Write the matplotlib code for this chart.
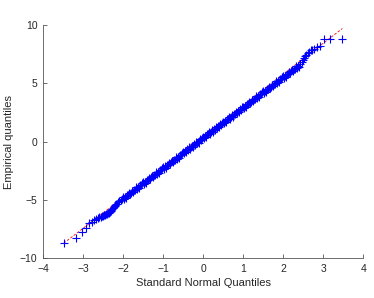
import matplotlib
matplotlib.use('Agg')
import matplotlib.pyplot as plt

# Lower tail: individual points
low_x = [-3.48, -3.17, -3.02, -2.92, -2.84, -2.78, -2.72, -2.67, -2.63, -2.59,
         -2.56, -2.53, -2.50, -2.47, -2.445, -2.42, -2.40, -2.375, -2.355, -2.335,
         -2.31, -2.29, -2.27, -2.25, -2.23, -2.21, -2.19, -2.17, -2.15, -2.12,
         -2.09, -2.06, -2.03]
low_y = [-8.74, -8.31, -7.74, -7.45, -7.02, -6.88, -6.72, -6.62, -6.55, -6.50,
         -6.46, -6.42, -6.38, -6.33, -6.30, -6.26, -6.22, -6.16, -6.10, -6.02,
         -5.93, -5.85, -5.76, -5.68, -5.60, -5.52, -5.45, -5.39, -5.32, -5.22,
         -5.13, -5.05, -4.97]

# Dense middle band
mid_x = [-2.000, -1.975, -1.950, -1.925, -1.900, -1.875, -1.850, -1.825, -1.800, -1.775,
         -1.750, -1.725, -1.700, -1.675, -1.650, -1.625, -1.600, -1.575, -1.550, -1.525,
         -1.500, -1.475, -1.450, -1.425, -1.400, -1.375, -1.350, -1.325, -1.300, -1.275,
         -1.250, -1.225, -1.200, -1.175, -1.150, -1.125, -1.100, -1.075, -1.050, -1.025,
         -1.000, -0.975, -0.950, -0.925, -0.900, -0.875, -0.850, -0.825, -0.800, -0.775,
         -0.750, -0.725, -0.700, -0.675, -0.650, -0.625, -0.600, -0.575, -0.550, -0.525,
         -0.500, -0.475, -0.450, -0.425, -0.400, -0.375, -0.350, -0.325, -0.300, -0.275,
         -0.250, -0.225, -0.200, -0.175, -0.150, -0.125, -0.100, -0.075, -0.050, -0.025,
         0.000, 0.025, 0.050, 0.075, 0.100, 0.125, 0.150, 0.175, 0.200, 0.225,
         0.250, 0.275, 0.300, 0.325, 0.350, 0.375, 0.400, 0.425, 0.450, 0.475,
         0.500, 0.525, 0.550, 0.575, 0.600, 0.625, 0.650, 0.675, 0.700, 0.725,
         0.750, 0.775, 0.800, 0.825, 0.850, 0.875, 0.900, 0.925, 0.950, 0.975,
         1.000, 1.025, 1.050, 1.075, 1.100, 1.125, 1.150, 1.175, 1.200, 1.225,
         1.250, 1.275, 1.300, 1.325, 1.350, 1.375, 1.400, 1.425, 1.450, 1.475,
         1.500, 1.525, 1.550, 1.575, 1.600, 1.625, 1.650, 1.675, 1.700, 1.725,
         1.750, 1.775, 1.800, 1.825, 1.850, 1.875, 1.900, 1.925, 1.950, 1.975,
         2.000, 2.025, 2.050, 2.075, 2.100, 2.125, 2.150, 2.175, 2.200, 2.225,
         2.250, 2.275, 2.300, 2.325, 2.350, 2.375, 2.400]
mid_y = [-4.80, -4.92, -4.74, -4.83, -4.57, -4.60, -4.40, -4.54, -4.38, -4.26,
         -4.36, -4.15, -4.17, -3.94, -4.06, -3.91, -3.99, -3.72, -3.76, -3.58,
         -3.50, -3.62, -3.44, -3.53, -3.27, -3.30, -3.10, -3.24, -3.08, -2.96,
         -3.06, -2.85, -2.87, -2.64, -2.76, -2.61, -2.69, -2.42, -2.46, -2.28,
         -2.20, -2.32, -2.14, -2.23, -1.97, -2.00, -1.80, -1.94, -1.78, -1.66,
         -1.76, -1.55, -1.57, -1.34, -1.46, -1.31, -1.39, -1.12, -1.16, -0.98,
         -0.90, -1.02, -0.84, -0.93, -0.67, -0.70, -0.50, -0.64, -0.48, -0.36,
         -0.46, -0.25, -0.27, -0.04, -0.16, -0.01, -0.09, 0.19, 0.14, 0.33,
         0.40, 0.29, 0.46, 0.38, 0.63, 0.61, 0.80, 0.67, 0.82, 0.95,
         0.84, 1.06, 1.03, 1.27, 1.14, 1.30, 1.21, 1.49, 1.44, 1.63,
         1.70, 1.59, 1.76, 1.68, 1.93, 1.91, 2.10, 1.97, 2.12, 2.25,
         2.14, 2.36, 2.33, 2.57, 2.44, 2.60, 2.51, 2.79, 2.74, 2.93,
         3.00, 2.89, 3.06, 2.98, 3.23, 3.21, 3.40, 3.27, 3.42, 3.55,
         3.44, 3.66, 3.63, 3.87, 3.74, 3.90, 3.81, 4.09, 4.04, 4.23,
         4.30, 4.19, 4.36, 4.28, 4.53, 4.51, 4.70, 4.57, 4.72, 4.85,
         4.74, 4.96, 4.93, 5.17, 5.04, 5.20, 5.11, 5.39, 5.34, 5.53,
         5.60, 5.49, 5.66, 5.58, 5.83, 5.81, 6.00, 5.87, 6.02, 6.15,
         6.04, 6.26, 6.23, 6.47, 6.34, 6.50, 6.41]

# Upper tail
high_x = [2.43, 2.46, 2.49, 2.52, 2.55, 2.58, 2.61, 2.65, 2.69, 2.73,
          2.78, 2.84, 2.92, 3.02, 3.17, 3.48]
high_y = [6.68, 6.85, 7.00, 7.15, 7.30, 7.45, 7.57, 7.72, 7.85, 7.90,
          7.94, 8.14, 8.22, 8.80, 8.80, 8.80]

# Reference line endpoints
ref_x = [-3.48, 3.48]
ref_y = [-8.72, 9.70]

x_ticks = [-4, -3, -2, -1, 0, 1, 2, 3, 4]
y_ticks = [-10, -5, 0, 5, 10]


def main():
    plt.rcParams['font.family'] = ['Liberation Sans', 'DejaVu Sans']
    fig = plt.figure(figsize=(3.74, 2.98), dpi=100)
    ax = fig.add_axes([0.115, 0.134, 0.856, 0.782])

    qx = low_x + mid_x + high_x
    qy = low_y + mid_y + high_y

    ax.plot(ref_x, ref_y, color='red', lw=0.6, ls=(0, (3, 2)), zorder=1)
    ax.plot(qx, qy, ls='none', marker='+', color='blue', markersize=6,
            markeredgewidth=0.8, zorder=2)

    ax.set_xlim(-4, 4)
    ax.set_ylim(-10, 10)
    ax.set_xticks(x_ticks)
    ax.set_yticks(y_ticks)

    # MATLAB-like axes: box off, ticks inward
    ax.spines['top'].set_visible(False)
    ax.spines['right'].set_visible(False)
    for side in ['left', 'bottom']:
        ax.spines[side].set_color('#555555')
        ax.spines[side].set_linewidth(0.6)
    ax.tick_params(direction='in', length=3, width=0.6, color='#555555',
                   labelsize=7.5, labelcolor='#262626', pad=4)

    ax.set_xlabel('Standard Normal Quantiles', fontsize=8, color='#262626',
                  labelpad=3)
    ax.set_ylabel('Empirical quantiles', fontsize=8, color='#262626',
                  labelpad=4)

    fig.savefig('out.png', dpi=100)
    plt.close()


if __name__ == "__main__":
    main()
